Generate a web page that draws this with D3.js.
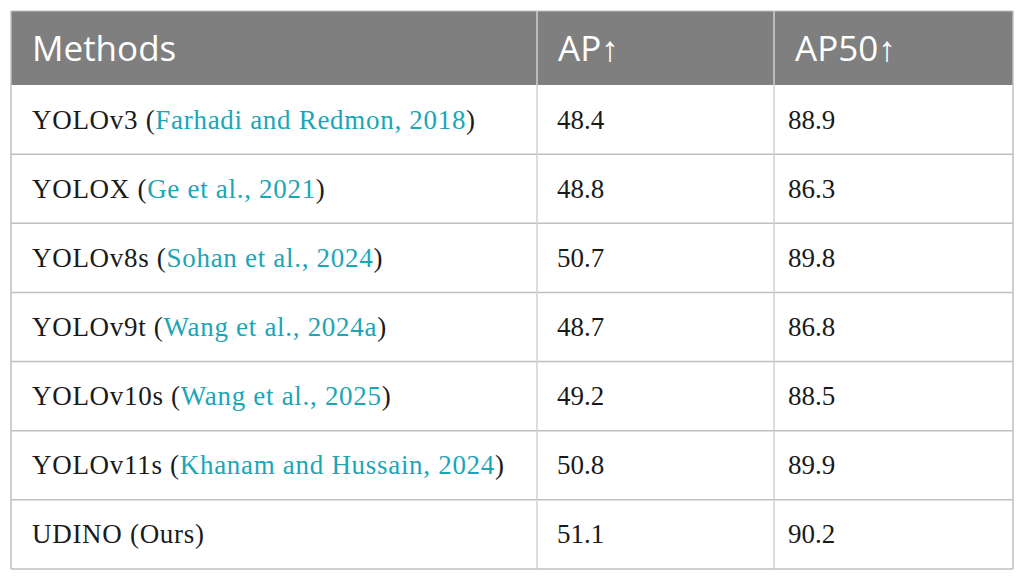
<meta charset="utf-8">
<body style="margin:0;background:#fff">
<div id="table"></div>
</body>
<script src="https://d3js.org/d3.v7.min.js"></script>
<script>
var headers = ["Methods", "AP\u2191", "AP50\u2191"];
var methods = ["YOLOv3", "YOLOX", "YOLOv8s", "YOLOv9t", "YOLOv10s", "YOLOv11s", "UDINO"];
var citations = ["Farhadi and Redmon, 2018", "Ge et al., 2021", "Sohan et al., 2024",
  "Wang et al., 2024a", "Wang et al., 2025", "Khanam and Hussain, 2024", "Ours"];
var ap = ["48.4", "48.8", "50.7", "48.7", "49.2", "50.8", "51.1"];
var ap50 = ["88.9", "86.3", "89.8", "86.8", "88.5", "89.9", "90.2"];
// last row is not a link
var linked = [true, true, true, true, true, true, false];

var W = 1025, H = 580;
var x0 = 11, x1 = 1013, y0 = 11, headH = 74, y1 = 569;
var colEdges = [x0, 537, 774, x1];
var lineCol = "#bfbfbf";

var svg = d3.select("#table").append("svg")
  .attr("width", W).attr("height", H)
  .style("display", "block");

var y = d3.scaleBand()
  .domain(d3.range(methods.length))
  .range([y0 + headH, y1]);

// header
svg.append("rect")
  .attr("x", x0).attr("y", y0)
  .attr("width", x1 - x0).attr("height", headH)
  .attr("fill", "#7f7f7f");

svg.selectAll("text.head")
  .data(headers)
  .enter().append("text")
  .attr("class", "head")
  .attr("x", function(d, i) { return colEdges[i] + 21; })
  .attr("y", y0 + headH / 2 + 13)
  .text(String);

// row lines
svg.selectAll("line.row")
  .data(d3.range(1, methods.length))
  .enter().append("line")
  .attr("x1", x0).attr("x2", x1)
  .attr("y1", function(d) { return y(d); })
  .attr("y2", function(d) { return y(d); })
  .attr("stroke", lineCol).attr("stroke-width", 1.5);

// column lines
svg.selectAll("line.col")
  .data(colEdges)
  .enter().append("line")
  .attr("x1", function(d) { return d; })
  .attr("x2", function(d) { return d; })
  .attr("y1", y0)
  .attr("y2", y1)
  .attr("stroke", function(d, i) { return (i == 1 || i == 2) ? "#d0d0d0" : lineCol; })
  .attr("stroke-width", 1.5);

svg.append("line")
  .attr("x1", x0).attr("x2", x1)
  .attr("y1", y1).attr("y2", y1)
  .attr("stroke", lineCol).attr("stroke-width", 1.5);

svg.append("line")
  .attr("x1", x0).attr("x2", x1)
  .attr("y1", y0).attr("y2", y0)
  .attr("stroke", lineCol).attr("stroke-width", 1);

// body cells
var rows = svg.selectAll("g.row")
  .data(methods)
  .enter().append("g")
  .attr("class", "row")
  .attr("transform", function(d, i) { return "translate(0," + (y(i) + y.bandwidth() / 2 + 9) + ")"; });

var first = rows.append("text")
  .attr("class", "cell method")
  .attr("x", colEdges[0] + 21);
first.append("tspan").text(function(d) { return d + " ("; });
first.append("tspan")
  .attr("fill", function(d, i) { return linked[i] ? "#1aa6b7" : "#1a1a1a"; })
  .text(function(d, i) { return citations[i]; });
first.append("tspan").text(")");

rows.append("text")
  .attr("class", "cell")
  .attr("x", colEdges[1] + 20)
  .text(function(d, i) { return ap[i]; });

rows.append("text")
  .attr("class", "cell")
  .attr("x", colEdges[2] + 14)
  .text(function(d, i) { return ap50[i]; });
</script>
<style>
svg text.head {
  font-family: "Open Sans", sans-serif;
  font-size: 35px;
  fill: #fff;
}
svg text.cell {
  font-family: "Liberation Serif", serif;
  font-size: 27px;
  fill: #1a1a1a;
}
svg text.method {
  letter-spacing: 0.7px;
}
</style>
